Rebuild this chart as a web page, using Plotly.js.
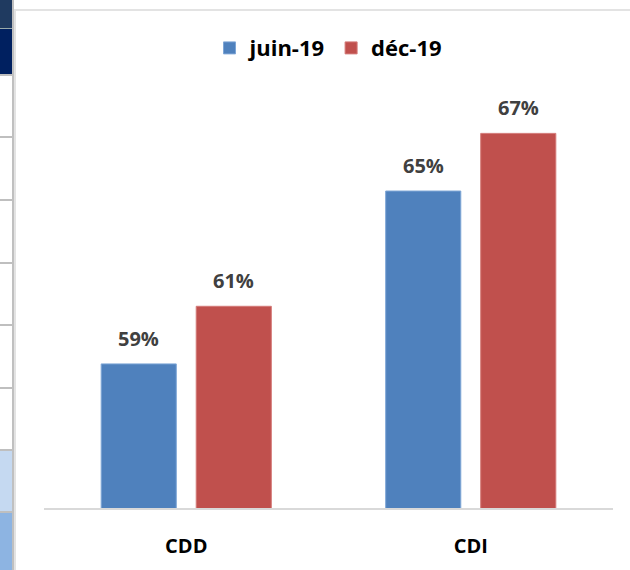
<!DOCTYPE html>
<html>
<head>
<meta charset="utf-8">
<script src="https://cdn.plot.ly/plotly-3.0.1.min.js"></script>
<style>
  html, body { margin: 0; padding: 0; background: #ffffff; }
  #wrap { position: relative; width: 630px; height: 570px; overflow: hidden; }
  #chart { position: absolute; left: 0; top: 0; width: 630px; height: 570px; }
  .cell { position: absolute; left: 0; width: 12px; border-bottom: 2px solid #bfbfbf; box-sizing: border-box; }
  #vline { position: absolute; left: 12px; top: 0; width: 2px; height: 570px; background: #c0c0c0; }
  #frameTop { position: absolute; left: 15px; top: 9px; width: 615px; height: 2px; background: #e3e3e3; }
  #frameLeft { position: absolute; left: 14px; top: 9px; width: 2px; height: 561px; background: #e3e3e3; }
</style>
</head>
<body>
<div id="wrap">
  <div id="chart"></div>
  <div class="cell" style="top:0;height:29px;background:#1f3a60;border-bottom:1px solid #9aa;"></div>
  <div class="cell" style="top:29px;height:47px;background:#002060;"></div>
  <div class="cell" style="top:76px;height:62px;background:#fff;"></div>
  <div class="cell" style="top:138px;height:63px;background:#fff;"></div>
  <div class="cell" style="top:201px;height:63px;background:#fff;"></div>
  <div class="cell" style="top:264px;height:62px;background:#fff;"></div>
  <div class="cell" style="top:326px;height:63px;background:#fff;"></div>
  <div class="cell" style="top:389px;height:62px;background:#fff;"></div>
  <div class="cell" style="top:451px;height:62px;background:#c5d9f1;"></div>
  <div class="cell" style="top:513px;height:57px;background:#8db4e2;border-bottom:none;"></div>
  <div id="vline"></div>
  <div id="frameTop"></div>
  <div id="frameLeft"></div>
</div>
<script>
const categories = ["CDD", "CDI"];
const seriesNames = ["juin-19", "déc-19"];
const juin19 = [59, 65];
const dec19 = [61, 67];

const FONT = "'Open Sans', Carlito, Lato, sans-serif";
const colors = ["#4f81bd", "#c0504d"];
const lineColors = ["#7ea6d6", "#d47a78"];
const offsets = [-0.299, 0.035];
const barWidth = 0.264;
const seriesValues = [juin19, dec19];

const traces = seriesValues.map((vals, s) => ({
  type: "bar",
  name: seriesNames[s],
  x: categories,
  y: vals,
  width: barWidth,
  offset: offsets[s],
  marker: { color: colors[s], line: { color: lineColors[s], width: 1 } },
  hoverinfo: "skip"
}));

const annotations = [];
seriesValues.forEach((vals, s) => {
  vals.forEach((v, i) => {
    annotations.push({
      x: i + offsets[s] + barWidth / 2,
      y: v,
      xref: "x",
      yref: "y",
      text: v + "%",
      showarrow: false,
      yanchor: "bottom",
      yshift: 10,
      font: { family: FONT, size: 20, color: "#404040", weight: 700 }
    });
  });
});

const layout = {
  width: 630,
  height: 570,
  margin: { l: 44, r: 17, t: 70, b: 62 },
  paper_bgcolor: "rgba(0,0,0,0)",
  plot_bgcolor: "rgba(0,0,0,0)",
  showlegend: true,
  legend: {
    orientation: "h",
    x: 0.5, xanchor: "center",
    y: 1.098, yanchor: "top",
    font: { family: FONT, size: 22, color: "#000000", weight: 700 },
    itemwidth: 30,
    traceorder: "normal",
    bgcolor: "rgba(0,0,0,0)"
  },
  xaxis: {
    type: "category",
    range: [-0.5, 1.5],
    showgrid: false,
    showline: true,
    linecolor: "#d9d9d9",
    linewidth: 2,
    ticks: "",
    ticklabelstandoff: 19,
    tickfont: { family: FONT, size: 20, color: "#000000", weight: 700 },
    fixedrange: true
  },
  yaxis: {
    range: [54, 69.2],
    visible: false,
    showgrid: false,
    zeroline: false,
    fixedrange: true
  },
  annotations: annotations
};

Plotly.newPlot("chart", traces, layout, { displayModeBar: false, staticPlot: true });
</script>
</body>
</html>
